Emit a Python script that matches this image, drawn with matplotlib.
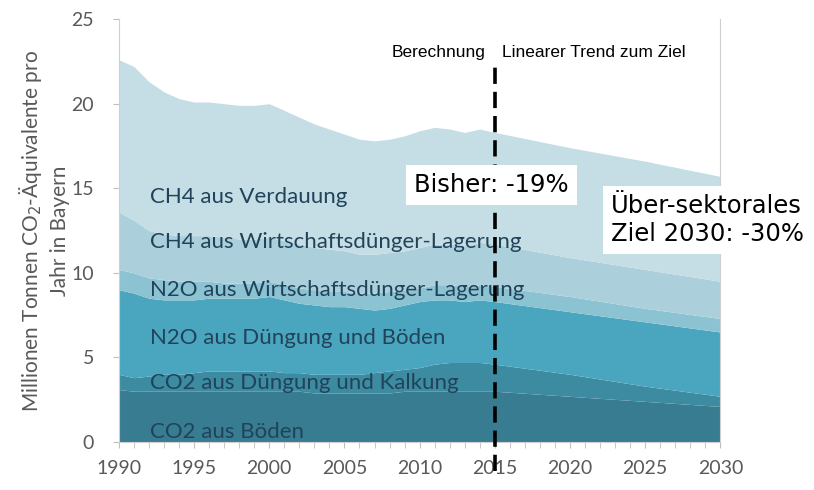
import numpy as np
import matplotlib
matplotlib.use("Agg")
import matplotlib.pyplot as plt
import matplotlib.ticker as ticker

# Jahre: Berechnung bis 2015, danach linearer Trend zum Ziel
jahre = [1990, 1991, 1992, 1993, 1994, 1995, 1996, 1997, 1998, 1999,
         2000, 2001, 2002, 2003, 2004, 2005, 2006, 2007, 2008, 2009,
         2010, 2011, 2012, 2013, 2014, 2015, 2020, 2025, 2030]

# Obergrenzen der gestapelten Flaechen (Mio. t CO2-Aeq., kumuliert)
co2_boeden = [3.1, 3.0, 3.0, 3.0, 3.0, 3.0, 3.0, 3.0, 3.0, 3.0,
              3.0, 3.0, 3.0, 2.9, 2.9, 2.9, 2.9, 2.9, 2.9, 3.0,
              3.0, 3.0, 3.0, 3.0, 3.0, 3.0, 2.7, 2.4, 2.1]
co2_duengung = [4.0, 3.8, 3.9, 4.0, 4.0, 4.1, 4.2, 4.2, 4.2, 4.2,
                4.2, 4.1, 4.1, 4.0, 4.0, 4.0, 4.0, 4.1, 4.2, 4.3,
                4.4, 4.6, 4.7, 4.7, 4.7, 4.6, 4.0, 3.3, 2.7]
n2o_duengung = [9.0, 8.8, 8.5, 8.4, 8.4, 8.4, 8.5, 8.5, 8.5, 8.5,
                8.6, 8.4, 8.2, 8.1, 8.0, 8.0, 7.9, 7.8, 7.9, 8.1,
                8.3, 8.4, 8.4, 8.3, 8.4, 8.3, 7.7, 7.1, 6.5]
n2o_lagerung = [10.2, 10.0, 9.7, 9.6, 9.5, 9.5, 9.5, 9.4, 9.4, 9.4,
                9.5, 9.3, 9.1, 9.0, 8.9, 8.9, 8.8, 8.8, 8.9, 9.0,
                9.1, 9.3, 9.3, 9.2, 9.3, 9.2, 8.6, 7.9, 7.3]
ch4_lagerung = [13.6, 13.1, 12.5, 12.3, 12.2, 12.2, 12.2, 12.1, 12.0, 12.0,
                12.1, 11.9, 11.7, 11.5, 11.4, 11.3, 11.1, 11.1, 11.2, 11.3,
                11.5, 11.7, 11.7, 11.6, 11.8, 11.7, 10.9, 10.2, 9.5]
ch4_verdauung = [22.6, 22.2, 21.3, 20.7, 20.3, 20.1, 20.1, 20.0, 19.9, 19.9,
                 20.0, 19.6, 19.2, 18.8, 18.5, 18.2, 17.9, 17.8, 17.9, 18.1,
                 18.4, 18.6, 18.5, 18.3, 18.5, 18.3, 17.4, 16.6, 15.7]

labels = ["CO2 aus Böden", "CO2 aus Düngung und Kalkung",
          "N2O aus Düngung und Böden", "N2O aus Wirtschaftsdünger-Lagerung",
          "CH4 aus Wirtschaftsdünger-Lagerung", "CH4 aus Verdauung"]
label_y = [0.6, 3.5, 6.15, 9.0, 11.8, 14.5]
farben = ["#377c90", "#3d8ba1", "#4aa5be", "#8cc3d2", "#abcfdb", "#c5dde5"]

fig = plt.figure(figsize=(8.14, 4.9), dpi=100)
ax = fig.add_axes([0.146, 0.098, 0.739, 0.863])

x = np.array(jahre)
schichten = [co2_boeden, co2_duengung, n2o_duengung, n2o_lagerung, ch4_lagerung, ch4_verdauung]
unten = np.zeros(len(x))
for oben, farbe in zip(schichten, farben):
    ax.fill_between(x, unten, oben, color=farbe, linewidth=0)
    unten = np.array(oben)

for text, y in zip(labels, label_y):
    ax.text(1992.1, y, text, fontsize=16, family="Lato", color="#21435a",
            va="center", ha="left")

ax.set_xlim(1990, 2030)
ax.set_ylim(0, 25)
ax.set_xticks(range(1990, 2031, 5))
ax.xaxis.set_minor_locator(ticker.MultipleLocator(1))
ax.set_yticks(range(0, 26, 5))
ax.tick_params(axis="both", labelsize=14, colors="#595959", length=4, width=0.8)
ax.tick_params(axis="x", which="minor", length=4, color="#bfbfbf")
ax.tick_params(axis="x", which="major", color="#bfbfbf", pad=9)
ax.tick_params(axis="y", color="#bfbfbf", pad=14)
for lab in ax.get_xticklabels() + ax.get_yticklabels():
    lab.set_family("Lato")
ax.spines["top"].set_visible(False)
for s in ["left", "right", "bottom"]:
    ax.spines[s].set_color("#d0d0d0")
    ax.spines[s].set_linewidth(0.8)

ax.set_ylabel("Millionen Tonnen CO$_2$-Äquivalente pro\nJahr in Bayern",
              fontsize=15, color="#595959", family="Lato", labelpad=1,
              linespacing=1.35)

# Trennlinie 2015
ax.plot([2015, 2015], [-1.7, 22.4], color="black", linestyle=(0, (4.5, 2.2)),
        linewidth=2.6, clip_on=False, zorder=5)
ax.text(2014.4, 23.05, "Berechnung", fontsize=12.5, family="Liberation Sans",
        ha="right", va="center")
ax.text(2015.5, 23.05, "Linearer Trend zum Ziel", fontsize=12.5,
        family="Liberation Sans", ha="left", va="center")

ax.text(2014.8, 15.2, "Bisher: -19%", fontsize=17.5, family="DejaVu Sans",
        ha="center", va="center", zorder=6,
        bbox=dict(facecolor="white", edgecolor="none", pad=6))
fig.text(611 / 814, 1 - 220 / 490, "Über-sektorales\nZiel 2030: -30%",
         fontsize=17.5, family="DejaVu Sans", ha="left", va="center",
         linespacing=1.2, zorder=6,
         bbox=dict(facecolor="white", edgecolor="none", pad=6))

plt.savefig("out.png", dpi=100)
plt.close()
